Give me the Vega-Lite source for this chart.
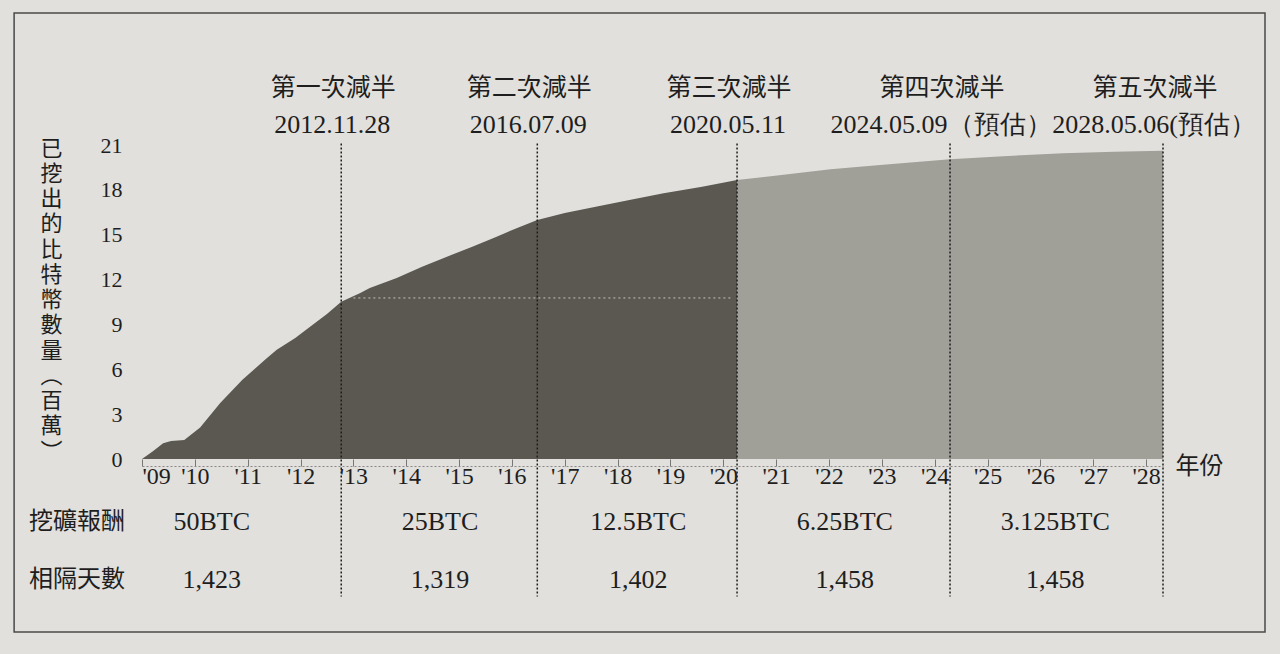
{
  "$schema": "https://vega.github.io/schema/vega-lite/v6.json",
  "autosize": {"type": "none"},
  "width": 1021,
  "height": 314,
  "padding": {"left": 142, "top": 145, "right": 117, "bottom": 195},
  "background": "#e1e0dc",
  "config": {
    "view": {"stroke": null},
    "text": {"color": "#1e1e1e"}
  },
  "datasets": {
    "supply": [
      {"year": 2009.0, "btc": 0, "period": "mined"},
      {"year": 2009.2, "btc": 0.5, "period": "mined"},
      {"year": 2009.4, "btc": 1.05, "period": "mined"},
      {"year": 2009.55, "btc": 1.2, "period": "mined"},
      {"year": 2009.8, "btc": 1.27, "period": "mined"},
      {"year": 2010.1, "btc": 2.1, "period": "mined"},
      {"year": 2010.48, "btc": 3.75, "period": "mined"},
      {"year": 2010.9, "btc": 5.3, "period": "mined"},
      {"year": 2011.36, "btc": 6.74, "period": "mined"},
      {"year": 2011.55, "btc": 7.3, "period": "mined"},
      {"year": 2011.9, "btc": 8.1, "period": "mined"},
      {"year": 2012.18, "btc": 8.85, "period": "mined"},
      {"year": 2012.5, "btc": 9.7, "period": "mined"},
      {"year": 2012.77, "btc": 10.52, "period": "mined"},
      {"year": 2013.13, "btc": 11.1, "period": "mined"},
      {"year": 2013.31, "btc": 11.44, "period": "mined"},
      {"year": 2013.82, "btc": 12.1, "period": "mined"},
      {"year": 2014.3, "btc": 12.85, "period": "mined"},
      {"year": 2014.77, "btc": 13.53, "period": "mined"},
      {"year": 2015.25, "btc": 14.2, "period": "mined"},
      {"year": 2015.71, "btc": 14.87, "period": "mined"},
      {"year": 2016.1, "btc": 15.45, "period": "mined"},
      {"year": 2016.48, "btc": 15.99, "period": "mined"},
      {"year": 2017.0, "btc": 16.45, "period": "mined"},
      {"year": 2017.61, "btc": 16.88, "period": "mined"},
      {"year": 2018.2, "btc": 17.3, "period": "mined"},
      {"year": 2018.87, "btc": 17.77, "period": "mined"},
      {"year": 2019.6, "btc": 18.2, "period": "mined"},
      {"year": 2020.26, "btc": 18.66, "period": "mined"},
      {"year": 2020.26, "btc": 18.66, "period": "projected"},
      {"year": 2021.1, "btc": 19.0, "period": "projected"},
      {"year": 2022.03, "btc": 19.38, "period": "projected"},
      {"year": 2022.97, "btc": 19.67, "period": "projected"},
      {"year": 2024.29, "btc": 20.05, "period": "projected"},
      {"year": 2025.3, "btc": 20.25, "period": "projected"},
      {"year": 2026.43, "btc": 20.45, "period": "projected"},
      {"year": 2027.4, "btc": 20.55, "period": "projected"},
      {"year": 2028.32, "btc": 20.62, "period": "projected"}
    ],
    "halvings": [
      {"year": 2012.77, "name": "第一次減半", "date": "2012.11.28"},
      {"year": 2016.48, "name": "第二次減半", "date": "2016.07.09"},
      {"year": 2020.26, "name": "第三次減半", "date": "2020.05.11"},
      {"year": 2024.29, "name": "第四次減半", "date": "2024.05.09（預估）"},
      {"year": 2028.32, "name": "第五次減半", "date": "2028.05.06(預估）"}
    ],
    "eras": [
      {"year": 2010.32, "reward": "50BTC", "days": "1,423"},
      {"year": 2014.64, "reward": "25BTC", "days": "1,319"},
      {"year": 2018.39, "reward": "12.5BTC", "days": "1,402"},
      {"year": 2022.3, "reward": "6.25BTC", "days": "1,458"},
      {"year": 2026.28, "reward": "3.125BTC", "days": "1,458"}
    ]
  },
  "layer": [
    {
      "data": {"values": [{}]},
      "mark": {"type": "rect", "fill": null, "stroke": "#4a4a4a", "strokeWidth": 1.5},
      "encoding": {
        "x": {"datum": 2006.58, "type": "quantitative"},
        "x2": {"datum": 2030.25},
        "y": {"datum": 29.83, "type": "quantitative"},
        "y2": {"datum": -11.57}
      }
    },
    {
      "data": {"name": "supply"},
      "mark": {"type": "area", "interpolate": "linear"},
      "encoding": {
        "x": {
          "field": "year",
          "type": "quantitative",
          "scale": {"domain": [2009, 2028.32], "nice": false, "zero": false},
          "axis": {
            "title": "年份",
            "titleFont": "Noto Sans CJK TC",
            "titleFontWeight": "normal",
            "titleFontSize": 24,
            "titleColor": "#1e1e1e",
            "titleAngle": 0,
            "titleAlign": "left",
            "titleBaseline": "middle",
            "titleX": 1033,
            "titleY": 0,
            "values": [2009, 2010, 2011, 2012, 2013, 2014, 2015, 2016, 2017, 2018, 2019, 2020, 2021, 2022, 2023, 2024, 2025, 2026, 2027, 2028],
            "format": "d",
            "labelExpr": "\"'\" + slice(toString(datum.value), 2)",
            "labelFont": "Liberation Serif",
            "labelFontSize": 24,
            "labelColor": "#1e1e1e",
            "labelFlush": true,
            "labelPadding": 5,
            "offset": 7,
            "tickSize": -7,
            "tickColor": "#777",
            "domainColor": "#888",
            "domainDash": [2, 2],
            "grid": false
          }
        },
        "y": {
          "field": "btc",
          "type": "quantitative",
          "stack": null,
          "scale": {"domain": [0, 21], "nice": false},
          "axis": {
            "title": ["已", "挖", "出", "的", "比", "特", "幣", "數", "量", "︵", "百", "萬", "︶"],
            "titleFont": "Noto Sans CJK TC",
            "titleFontWeight": "normal",
            "titleFontSize": 22,
            "titleColor": "#1e1e1e",
            "titleAngle": 0,
            "titleAlign": "center",
            "titleBaseline": "middle",
            "titleLineHeight": 25.25,
            "titleX": -91,
            "titleY": 3,
            "values": [0, 3, 6, 9, 12, 15, 18, 21],
            "labelFont": "Liberation Serif",
            "labelFontSize": 22,
            "labelColor": "#1e1e1e",
            "labelPadding": 20,
            "ticks": false,
            "domain": false,
            "grid": false
          }
        },
        "color": {
          "field": "period",
          "type": "nominal",
          "scale": {"domain": ["mined", "projected"], "range": ["#5a5850", "#a09f98"]},
          "legend": null
        }
      }
    },
    {
      "data": {"values": [{}]},
      "mark": {"type": "rule", "stroke": "#f2f2ee", "strokeDash": [2, 3], "strokeWidth": 1, "opacity": 0.7},
      "encoding": {
        "x": {"datum": 2013.0, "type": "quantitative"},
        "x2": {"datum": 2020.15},
        "y": {"datum": 10.77, "type": "quantitative"}
      }
    },
    {
      "data": {"name": "halvings"},
      "mark": {"type": "rule", "stroke": "#1e1e1e", "strokeDash": [2, 2], "strokeWidth": 1.5},
      "encoding": {
        "x": {"field": "year", "type": "quantitative"},
        "y": {"datum": 21.1, "type": "quantitative"},
        "y2": {"datum": -9.2}
      }
    },
    {
      "data": {"name": "halvings"},
      "mark": {"type": "text", "font": "Noto Sans CJK TC", "fontSize": 25, "align": "center", "baseline": "middle", "dx": -8},
      "encoding": {
        "x": {"field": "year", "type": "quantitative"},
        "y": {"datum": 24.8, "type": "quantitative"},
        "text": {"field": "name"}
      }
    },
    {
      "data": {"name": "halvings"},
      "mark": {"type": "text", "font": "Liberation Serif", "fontSize": 26, "align": "center", "baseline": "middle", "dx": -9},
      "encoding": {
        "x": {"field": "year", "type": "quantitative"},
        "y": {"datum": 22.34, "type": "quantitative"},
        "text": {"field": "date"}
      }
    },
    {
      "data": {"name": "eras"},
      "mark": {"type": "text", "font": "Liberation Serif", "fontSize": 26, "align": "center", "baseline": "middle"},
      "encoding": {
        "x": {"field": "year", "type": "quantitative"},
        "y": {"datum": -4.21, "type": "quantitative"},
        "text": {"field": "reward"}
      }
    },
    {
      "data": {"name": "eras"},
      "mark": {"type": "text", "font": "Liberation Serif", "fontSize": 26, "align": "center", "baseline": "middle"},
      "encoding": {
        "x": {"field": "year", "type": "quantitative"},
        "y": {"datum": -8.09, "type": "quantitative"},
        "text": {"field": "days"}
      }
    },
    {
      "data": {"values": [{}]},
      "mark": {"type": "text", "font": "Noto Sans CJK TC", "fontSize": 24, "align": "center", "baseline": "middle"},
      "encoding": {
        "x": {"datum": 2007.77, "type": "quantitative"},
        "y": {"datum": -4.21, "type": "quantitative"},
        "text": {"value": "挖礦報酬"}
      }
    },
    {
      "data": {"values": [{}]},
      "mark": {"type": "text", "font": "Noto Sans CJK TC", "fontSize": 24, "align": "center", "baseline": "middle"},
      "encoding": {
        "x": {"datum": 2007.77, "type": "quantitative"},
        "y": {"datum": -8.09, "type": "quantitative"},
        "text": {"value": "相隔天數"}
      }
    }
  ]
}
